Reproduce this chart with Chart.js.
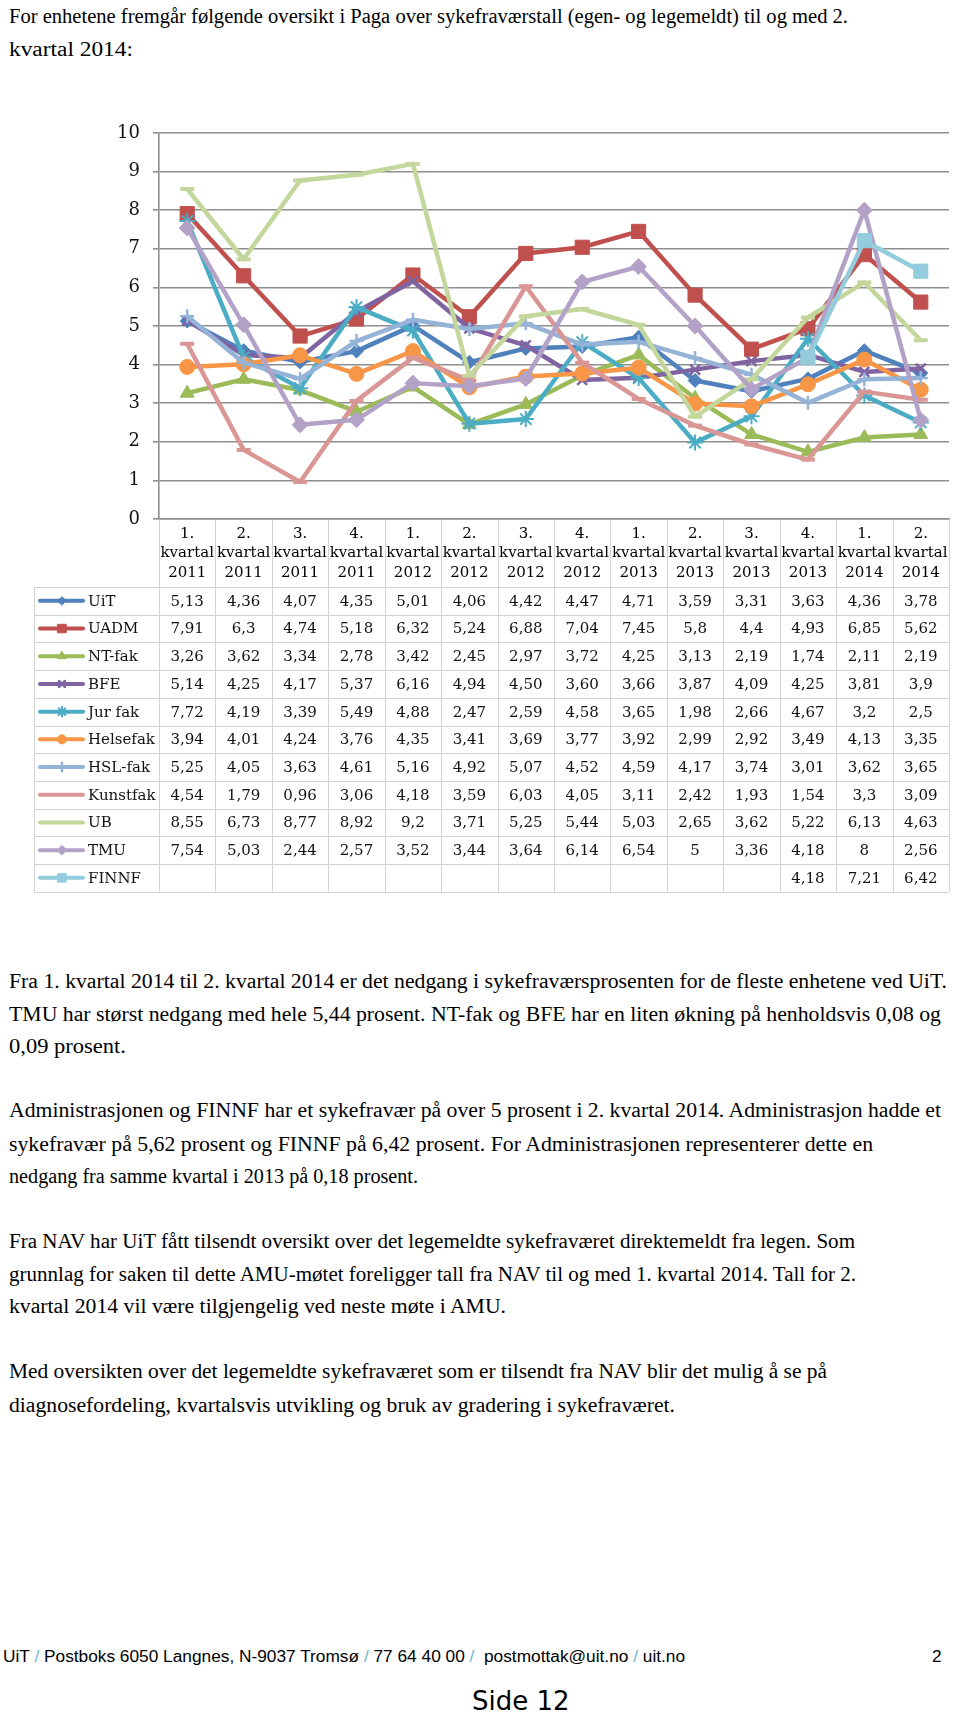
<!DOCTYPE html>
<html>
<head>
<meta charset="utf-8">
<script src="https://cdn.jsdelivr.net/npm/chart.js@4/dist/chart.umd.min.js"></script>
<style>
  body { margin: 0; background: #fff; width: 960px; height: 1715px; position: relative; overflow: hidden; }
  .t { position: absolute; left: 9px; white-space: nowrap; font-family: "Liberation Serif", "Times New Roman", serif;
       font-size: 20.5px; line-height: 24px; color: #000; transform-origin: 0 50%; }
  .foot { position: absolute; white-space: nowrap; font-family: "Liberation Sans", Arial, sans-serif;
          font-size: 17.3px; line-height: 20px; color: #000; }
  .foot b { font-weight: normal; color: #6cb8cb; }
  #side { position: absolute; left: 472px; top: 1686px; font-family: "DejaVu Sans", sans-serif; font-size: 26px; line-height: 30px; }
  #chart { position: absolute; left: 0; top: 100px; }
</style>
</head>
<body>
<canvas id="chart" width="960" height="800"></canvas>
<div id="text"></div>
<div class="foot" style="left:3px;top:1646px">UiT <b>/</b> Postboks 6050 Langnes, N-9037 Tromsø <b>/</b> 77 64 40 00 <b>/</b>&nbsp; postmottak@uit.no <b>/</b> uit.no</div>
<div class="foot" style="left:932px;top:1646px">2</div>
<div id="side">Side 12</div>

<script>
// quarters on the x axis
var quarters = ['1.', '2.', '3.', '4.', '1.', '2.', '3.', '4.', '1.', '2.', '3.', '4.', '1.', '2.'];
var years = ['2011', '2011', '2011', '2011', '2012', '2012', '2012', '2012', '2013', '2013', '2013', '2013', '2014', '2014'];

// sykefravær per enhet (as written in the data table)
var uit      = ['5,13','4,36','4,07','4,35','5,01','4,06','4,42','4,47','4,71','3,59','3,31','3,63','4,36','3,78'];
var uadm     = ['7,91','6,3','4,74','5,18','6,32','5,24','6,88','7,04','7,45','5,8','4,4','4,93','6,85','5,62'];
var ntfak    = ['3,26','3,62','3,34','2,78','3,42','2,45','2,97','3,72','4,25','3,13','2,19','1,74','2,11','2,19'];
var bfe      = ['5,14','4,25','4,17','5,37','6,16','4,94','4,50','3,60','3,66','3,87','4,09','4,25','3,81','3,9'];
var jurfak   = ['7,72','4,19','3,39','5,49','4,88','2,47','2,59','4,58','3,65','1,98','2,66','4,67','3,2','2,5'];
var helsefak = ['3,94','4,01','4,24','3,76','4,35','3,41','3,69','3,77','3,92','2,99','2,92','3,49','4,13','3,35'];
var hslfak   = ['5,25','4,05','3,63','4,61','5,16','4,92','5,07','4,52','4,59','4,17','3,74','3,01','3,62','3,65'];
var kunstfak = ['4,54','1,79','0,96','3,06','4,18','3,59','6,03','4,05','3,11','2,42','1,93','1,54','3,3','3,09'];
var ub       = ['8,55','6,73','8,77','8,92','9,2','3,71','5,25','5,44','5,03','2,65','3,62','5,22','6,13','4,63'];
var tmu      = ['7,54','5,03','2,44','2,57','3,52','3,44','3,64','6,14','6,54','5','3,36','4,18','8','2,56'];
var finnf    = ['','','','','','','','','','','','4,18','7,21','6,42'];

var yTicks = [0, 1, 2, 3, 4, 5, 6, 7, 8, 9, 10];

var series = [
  { name: 'UiT',      vals: uit,      color: '#4f81bd', style: 'rectRot',  r: 7,  bw: 1 },
  { name: 'UADM',     vals: uadm,     color: '#c0504d', style: 'rect',     r: 10, bw: 1 },
  { name: 'NT-fak',   vals: ntfak,    color: '#9bbb59', style: 'triangle', r: 8,  bw: 1 },
  { name: 'BFE',      vals: bfe,      color: '#8064a2', style: 'crossRot', r: 7,  bw: 2.5 },
  { name: 'Jur fak',  vals: jurfak,   color: '#4bacc6', style: 'star',     r: 8,  bw: 2 },
  { name: 'Helsefak', vals: helsefak, color: '#f79646', style: 'circle',   r: 7.5, bw: 1 },
  { name: 'HSL-fak',  vals: hslfak,   color: '#95b3d7', style: 'cross',    r: 7,  bw: 2.5 },
  { name: 'Kunstfak', vals: kunstfak, color: '#d99694', style: 'line',     r: 7,  bw: 4 },
  { name: 'UB',       vals: ub,       color: '#c3d69b', style: 'line',     r: 7,  bw: 4 },
  { name: 'TMU',      vals: tmu,      color: '#b3a2c7', style: 'rectRot',  r: 8,  bw: 1 },
  { name: 'FINNF',    vals: finnf,    color: '#93cddd', style: 'rect',     r: 10, bw: 1 }
];

function num(s) { return s === '' ? null : parseFloat(s.replace(',', '.')); }

var labels = quarters.map(function(q, i) { return [q, 'kvartal', years[i]]; });

var datasets = series.map(function(s, i) {
  return {
    label: s.name,
    data: s.vals.map(num),
    borderColor: s.color,
    backgroundColor: s.color,
    borderWidth: 4.5,
    borderJoinStyle: 'round',
    pointStyle: s.style,
    pointRadius: s.r,
    pointBorderWidth: s.bw,
    pointBackgroundColor: s.color,
    pointBorderColor: s.color,
    tension: 0,
    order: series.length - i
  };
});

// excel style data table under the x axis
var ROW_H = 27.7;
var tablePlugin = {
  id: 'dataTable',
  afterDraw: function(chart) {
    var ctx = chart.ctx, xs = chart.scales.x, area = chart.chartArea;
    var n = labels.length;
    var band = (area.right - area.left) / n;
    var top = xs.bottom;
    var bottom = top + series.length * ROW_H;
    var left = 34;
    ctx.save();
    ctx.strokeStyle = '#d2d2d2';
    ctx.lineWidth = 1;
    ctx.beginPath();
    for (var k = 0; k <= n; k++) {
      var bx = Math.round(area.left + k * band) + 0.5;
      ctx.moveTo(bx, area.bottom + 1);
      ctx.lineTo(bx, bottom);
    }
    ctx.moveTo(left + 0.5, top);
    ctx.lineTo(left + 0.5, bottom);
    for (var r = 0; r <= series.length; r++) {
      var ry = Math.round(top + r * ROW_H) + 0.5;
      ctx.moveTo(left, ry);
      ctx.lineTo(area.right, ry);
    }
    ctx.stroke();

    ctx.font = '15px "DejaVu Serif", serif';
    ctx.textBaseline = 'middle';
    series.forEach(function(s, r) {
      var cy = top + (r + 0.5) * ROW_H;
      // legend key
      ctx.strokeStyle = s.color;
      ctx.fillStyle = s.color;
      ctx.lineWidth = 4;
      ctx.lineCap = 'round';
      ctx.beginPath();
      ctx.moveTo(40, cy);
      ctx.lineTo(83, cy);
      ctx.stroke();
      if (s.style !== 'line') {
        ctx.lineWidth = s.bw;
        Chart.helpers.drawPoint(ctx, { pointStyle: s.style, radius: s.r * 0.6, rotation: 0, borderWidth: s.bw }, 62, cy);
      }
      ctx.fillStyle = '#111';
      ctx.textAlign = 'left';
      ctx.fillText(s.name, 88, cy + 1);
      ctx.textAlign = 'center';
      s.vals.forEach(function(v, i) {
        if (v !== '') ctx.fillText(v, xs.getPixelForValue(i), cy + 1);
      });
    });
    ctx.restore();
  }
};

new Chart(document.getElementById('chart'), {
  type: 'line',
  data: { labels: labels, datasets: datasets },
  plugins: [tablePlugin],
  options: {
    responsive: false,
    animation: false,
    layout: { padding: { top: 33, right: 3, left: 0, bottom: 313 } },
    plugins: { legend: { display: false }, tooltip: { enabled: false } },
    scales: {
      x: {
        offset: true,
        grid: { display: true, drawOnChartArea: false, drawTicks: false },
        border: { display: true, color: '#8e8e8e', width: 1.6 },
        ticks: {
          autoSkip: false, maxRotation: 0, minRotation: 0, padding: 6,
          color: '#000', font: { family: '"DejaVu Serif", serif', size: 15, lineHeight: 1.27 }
        },
        afterFit: function(scale) { scale.height = 68; }
      },
      y: {
        min: yTicks[0], max: yTicks[yTicks.length - 1],
        afterBuildTicks: function(scale) { scale.ticks = yTicks.map(function(v) { return { value: v }; }); },
        grid: { color: '#8e8e8e', lineWidth: 1.6, tickLength: 6 },
        border: { display: true, color: '#8e8e8e', width: 1.6 },
        ticks: { padding: 13, color: '#111', font: { family: '"DejaVu Serif", serif', size: 18 } },
        afterFit: function(scale) { scale.width = 159; }
      }
    }
  }
});

// body text: one entry per printed line, with baseline and right edge
var textLines = [
  ['For enhetene fremgår følgende oversikt i Paga over sykefraværstall (egen- og legemeldt) til og med 2.', 23, 848],
  ['kvartal 2014:', 56, 133],
  ['Fra 1. kvartal 2014 til 2. kvartal 2014 er det nedgang i sykefraværsprosenten for de fleste enhetene ved UiT.', 988, 947],
  ['TMU har størst nedgang med hele 5,44 prosent. NT-fak og BFE har en liten økning på henholdsvis 0,08 og', 1021, 941],
  ['0,09 prosent.', 1053, 126],
  ['Administrasjonen og FINNF har et sykefravær på over 5 prosent i 2. kvartal 2014. Administrasjon hadde et', 1117, 941],
  ['sykefravær på 5,62 prosent og FINNF på 6,42 prosent. For Administrasjonen representerer dette en', 1151, 873],
  ['nedgang fra samme kvartal i 2013 på 0,18 prosent.', 1183, 418],
  ['Fra NAV har UiT fått tilsendt oversikt over det legemeldte sykefraværet direktemeldt fra legen. Som', 1248, 855],
  ['grunnlag for saken til dette AMU-møtet foreligger tall fra NAV til og med 1. kvartal 2014. Tall for 2.', 1281, 856],
  ['kvartal 2014 vil være tilgjengelig ved neste møte i AMU.', 1313, 506],
  ['Med oversikten over det legemeldte sykefraværet som er tilsendt fra NAV blir det mulig å se på', 1378, 827],
  ['diagnosefordeling, kvartalsvis utvikling og bruk av gradering i sykefraværet.', 1412, 675]
];
var holder = document.getElementById('text');
textLines.forEach(function(l) {
  var d = document.createElement('div');
  d.className = 't';
  d.textContent = l[0];
  d.style.top = (l[1] - 19) + 'px';
  holder.appendChild(d);
  var w = d.getBoundingClientRect().width;
  d.style.transform = 'scaleX(' + ((l[2] - 9) / w).toFixed(4) + ')';
});
</script>
</body>
</html>
